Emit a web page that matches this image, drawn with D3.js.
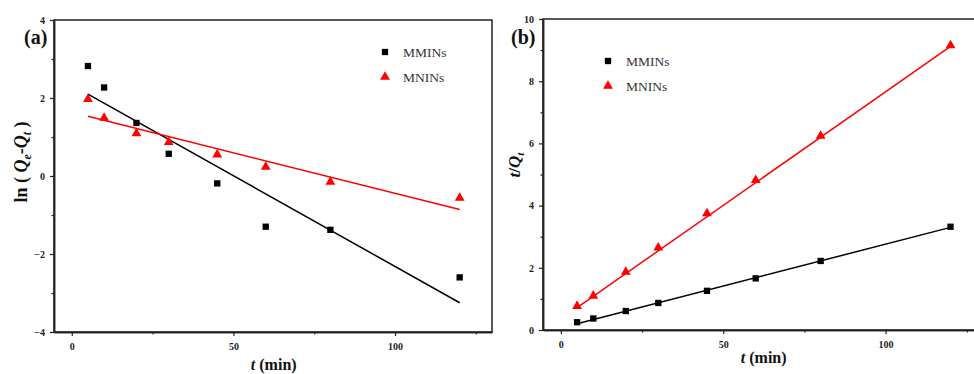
<!DOCTYPE html>
<html>
<head>
<meta charset="utf-8">
<script src="https://cdn.jsdelivr.net/npm/d3@7/dist/d3.min.js"></script>
<style>
  body { margin: 0; background: #fff; }
  svg { display: block; font-family: "Liberation Serif", "DejaVu Serif", serif; }
</style>
</head>
<body>
<svg width="974" height="374"></svg>
<script>
// time points (min)
let times = [5, 10, 20, 30, 45, 60, 80, 120];

// panel (a): ln(Qe - Qt)
let lnMMINs = [2.82, 2.27, 1.36, 0.57, -0.19, -1.30, -1.38, -2.60];
let lnMNINs = [1.97, 1.49, 1.09, 0.87, 0.55, 0.23, -0.15, -0.56];
let fitA_MMINs = [2.10, -3.25]; // fit line values at t = 5 and t = 120
let fitA_MNINs = [1.53, -0.86];

// panel (b): t/Qt
let tqMMINs = [0.25, 0.37, 0.61, 0.87, 1.26, 1.66, 2.22, 3.32];
let tqMNINs = [0.77, 1.10, 1.87, 2.65, 3.75, 4.82, 6.24, 9.15];
let fitB_MMINs = [0.20, 3.30];
let fitB_MNINs = [0.72, 9.12];
let fitT = [5, 120];

let xTicks = [0, 50, 100];
let xMinor = [25, 75, 125];
let yTicksA = [-4, -2, 0, 2, 4];
let yMinorA = [-3, -1, 1, 3];
let yTicksB = [0, 2, 4, 6, 8, 10];
let yMinorB = [1, 3, 5, 7, 9];

let seriesNames = ["MMINs", "MNINs"];
let colors = ["#000000", "#ff0000"];

let svg = d3.select("svg");

function panel(opt) {
  let x = d3.scaleLinear().domain([-5.5, 130]).range([opt.left, opt.right]);
  let y = d3.scaleLinear().domain(opt.yDomain).range([opt.bottom, opt.top]);
  let g = svg.append("g");

  // frame
  g.append("rect")
    .attr("x", opt.left).attr("y", opt.top)
    .attr("width", opt.right - opt.left).attr("height", opt.bottom - opt.top)
    .attr("fill", "none").attr("stroke", "#222").attr("stroke-width", 1.5);

  // axes
  let xa = g.append("g").attr("transform", "translate(0," + opt.bottom + ")")
    .call(d3.axisBottom(x).tickValues(xTicks).tickSize(4).tickSizeOuter(0));
  g.append("g").attr("transform", "translate(0," + opt.bottom + ")")
    .call(d3.axisBottom(x).tickValues(xMinor).tickSize(2.5).tickSizeOuter(0).tickFormat(""));
  let ya = g.append("g").attr("transform", "translate(" + opt.left + ",0)")
    .call(d3.axisLeft(y).tickValues(opt.yTicks).tickSize(4).tickSizeOuter(0));
  g.append("g").attr("transform", "translate(" + opt.left + ",0)")
    .call(d3.axisLeft(y).tickValues(opt.yMinor).tickSize(2.5).tickSizeOuter(0).tickFormat(""));

  g.selectAll(".domain").attr("stroke", "#222").attr("stroke-width", 1.5);
  g.selectAll(".tick line").attr("stroke", "#222").attr("stroke-width", 1.2);
  g.selectAll(".tick text")
    .attr("font-family", "Liberation Serif, serif")
    .attr("font-weight", "bold").attr("font-size", 10).attr("fill", "#222");
  xa.selectAll(".tick text").attr("dy", "1.1em");
  ya.selectAll(".tick text").attr("dx", "-0.2em");

  // fit lines
  opt.fits.forEach(function (f, i) {
    g.append("line")
      .attr("x1", x(fitT[0])).attr("y1", y(f[0]))
      .attr("x2", x(fitT[1])).attr("y2", y(f[1]))
      .attr("stroke", colors[i]).attr("stroke-width", 1.5);
  });

  // markers
  let sq = d3.symbol().type(d3.symbolSquare).size(40);
  let tri = d3.symbol().type(d3.symbolTriangle).size(42);
  g.append("g").selectAll("path")
    .data(times.map(function (t, i) { return [t, opt.series[0][i]]; }))
    .enter().append("path")
    .attr("d", sq)
    .attr("transform", function (d) { return "translate(" + x(d[0]) + "," + y(d[1]) + ")"; })
    .attr("fill", colors[0]);
  g.append("g").selectAll("path")
    .data(times.map(function (t, i) { return [t, opt.series[1][i]]; }))
    .enter().append("path")
    .attr("d", tri)
    .attr("transform", function (d) { return "translate(" + x(d[0]) + "," + y(d[1]) + ")"; })
    .attr("fill", colors[1]);

  // legend
  let lg = g.append("g").attr("transform", "translate(" + opt.legend[0] + "," + opt.legend[1] + ")");
  lg.append("path").attr("d", sq).attr("fill", colors[0]);
  lg.append("path").attr("d", tri).attr("fill", colors[1]).attr("transform", "translate(0,25)");
  seriesNames.forEach(function (n, i) {
    lg.append("text").attr("x", 18).attr("y", i * 25 + 5)
      .attr("font-size", 13.5).attr("fill", "#333").text(n);
  });

  // panel label
  g.append("text").attr("x", opt.label[0]).attr("y", opt.label[1])
    .attr("font-size", 20).attr("font-weight", "bold").attr("fill", "#111")
    .text(opt.labelText);

  // x title
  let xt = g.append("text")
    .attr("x", (x(0) + x(120)) / 2 + 8).attr("y", opt.xTitleY)
    .attr("text-anchor", "middle").attr("font-size", 16).attr("font-weight", "bold").attr("fill", "#111");
  xt.append("tspan").attr("font-style", "italic").text("t");
  xt.append("tspan").text(" (min)");

  return { x: x, y: y, g: g };
}

// panel (a)
let pa = panel({
  left: 54, right: 492, top: 20, bottom: 332,
  yDomain: [-4, 4], yTicks: yTicksA, yMinor: yMinorA,
  series: [lnMMINs, lnMNINs], fits: [fitA_MMINs, fitA_MNINs],
  legend: [385, 52], label: [24, 44], labelText: "(a)", xTitleY: 370
});

let yla = pa.g.append("text")
  .attr("transform", "translate(27,162) rotate(-90)")
  .attr("text-anchor", "middle").attr("font-size", 18).attr("font-weight", "bold").attr("fill", "#111");
yla.append("tspan").text("ln ( ");
yla.append("tspan").attr("font-style", "italic").text("Q");
yla.append("tspan").attr("font-style", "italic").attr("font-size", 12).attr("dy", 4).text("e");
yla.append("tspan").attr("dy", -4).text("-");
yla.append("tspan").attr("font-style", "italic").text("Q");
yla.append("tspan").attr("font-style", "italic").attr("font-size", 12).attr("dy", 4).text("t");
yla.append("tspan").attr("dy", -4).text(" )");

// panel (b)
let pb = panel({
  left: 543, right: 983, top: 19, bottom: 330,
  yDomain: [0, 10], yTicks: yTicksB, yMinor: yMinorB,
  series: [tqMMINs, tqMNINs], fits: [fitB_MMINs, fitB_MNINs],
  legend: [608, 61], label: [511, 44], labelText: "(b)", xTitleY: 363
});

let ylb = pb.g.append("text")
  .attr("transform", "translate(520,165) rotate(-90)")
  .attr("text-anchor", "middle").attr("font-size", 17).attr("font-weight", "bold").attr("fill", "#111");
ylb.append("tspan").attr("font-style", "italic").text("t");
ylb.append("tspan").text("/");
ylb.append("tspan").attr("font-style", "italic").text("Q");
ylb.append("tspan").attr("font-style", "italic").attr("font-size", 11).attr("dy", 4).text("t");
</script>
</body>
</html>
